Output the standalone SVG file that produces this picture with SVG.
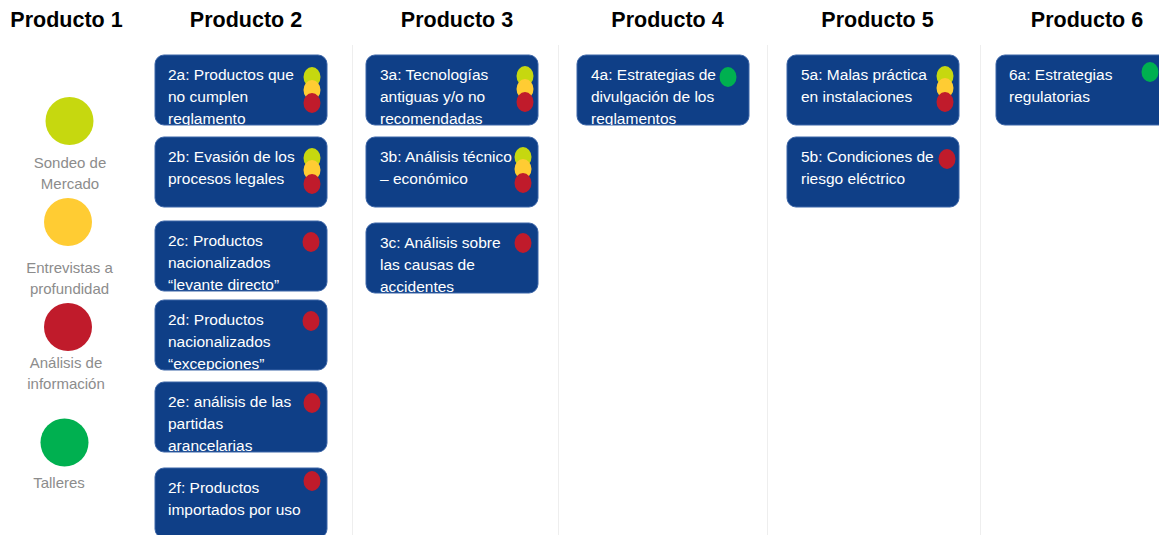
<svg xmlns="http://www.w3.org/2000/svg" width="1159" height="535" viewBox="0 0 1159 535">
<style>
.hdr{font-family:"Liberation Sans",Arial,sans-serif;font-weight:bold;font-size:21.5px;fill:#000;text-anchor:middle}
.box{fill:#0F3F87;stroke:#3D66A8;stroke-width:1}
.bt{font-family:"Liberation Sans",Arial,sans-serif;font-size:15.5px;fill:#FFFFFF}
.lg{font-family:"Liberation Sans",Arial,sans-serif;font-size:15px;fill:#8C8C8C;text-anchor:middle}
.sep{stroke:#EEEEEE;stroke-width:1}
.lime{fill:#C6D80F}
.yel{fill:#FFCC33}
.red{fill:#C01B2B}
.grn{fill:#00B050}
</style>
<defs>
<clipPath id="c2a"><rect x="155" y="55" width="172" height="70" rx="9"/></clipPath>
<clipPath id="c2b"><rect x="155" y="137" width="172" height="70" rx="9"/></clipPath>
<clipPath id="c2c"><rect x="155" y="221" width="172" height="70" rx="9"/></clipPath>
<clipPath id="c2d"><rect x="155" y="300" width="172" height="70" rx="9"/></clipPath>
<clipPath id="c2e"><rect x="155" y="382" width="172" height="70" rx="9"/></clipPath>
<clipPath id="c2f"><rect x="155" y="468" width="172" height="70" rx="9"/></clipPath>
<clipPath id="c3a"><rect x="366" y="55" width="172" height="70" rx="9"/></clipPath>
<clipPath id="c3b"><rect x="366" y="137" width="172" height="70" rx="9"/></clipPath>
<clipPath id="c3c"><rect x="366" y="223" width="172" height="70" rx="9"/></clipPath>
<clipPath id="c4a"><rect x="577" y="55" width="172" height="70" rx="9"/></clipPath>
<clipPath id="c5a"><rect x="787" y="55" width="172" height="70" rx="9"/></clipPath>
<clipPath id="c5b"><rect x="787" y="137" width="172" height="70" rx="9"/></clipPath>
<clipPath id="c6a"><rect x="996" y="55" width="172" height="70" rx="9"/></clipPath>
</defs>
<rect width="1159" height="535" fill="#FFFFFF"/>

<g id="separators">
<line class="sep" x1="352.5" y1="45" x2="352.5" y2="535"/>
<line class="sep" x1="558.5" y1="45" x2="558.5" y2="535"/>
<line class="sep" x1="767.5" y1="45" x2="767.5" y2="535"/>
<line class="sep" x1="980.5" y1="45" x2="980.5" y2="535"/>
</g>

<g id="headers">
<text class="hdr" x="66.5" y="27">Producto 1</text>
<text class="hdr" x="246" y="27">Producto 2</text>
<text class="hdr" x="457" y="27">Producto 3</text>
<text class="hdr" x="667.5" y="27">Producto 4</text>
<text class="hdr" x="877.5" y="27">Producto 5</text>
<text class="hdr" x="1087" y="27">Producto 6</text>
</g>

<g id="legend">
<circle class="lime" cx="69.5" cy="121" r="24"/>
<text class="lg" x="70" y="168">Sondeo de</text>
<text class="lg" x="70" y="189">Mercado</text>
<circle class="yel" cx="68" cy="222" r="24"/>
<text class="lg" x="69.5" y="273">Entrevistas a</text>
<text class="lg" x="69.5" y="294">profundidad</text>
<circle class="red" cx="68" cy="327" r="24"/>
<text class="lg" x="66" y="368">Análisis de</text>
<text class="lg" x="66" y="389">información</text>
<circle class="grn" cx="64.5" cy="442.5" r="24"/>
<text class="lg" x="59" y="488">Talleres</text>
</g>

<g id="n2a">
<rect class="box" x="155" y="55" width="172" height="70" rx="9"/>
<text class="bt" clip-path="url(#c2a)"><tspan x="168" y="80">2a: Productos que</tspan><tspan x="168" y="102">no cumplen</tspan><tspan x="168" y="123.5">reglamento</tspan></text>
<ellipse class="lime" cx="312" cy="77" rx="8.5" ry="10"/>
<ellipse class="yel" cx="312" cy="90" rx="8.5" ry="10"/>
<ellipse class="red" cx="312" cy="103" rx="8.5" ry="10"/>
</g>
<g id="n2b">
<rect class="box" x="155" y="137" width="172" height="70" rx="9"/>
<text class="bt" clip-path="url(#c2b)"><tspan x="168" y="162">2b: Evasión de los</tspan><tspan x="168" y="184">procesos legales</tspan></text>
<ellipse class="lime" cx="312" cy="158" rx="8.5" ry="10"/>
<ellipse class="yel" cx="312" cy="170" rx="8.5" ry="10"/>
<ellipse class="red" cx="312" cy="184" rx="8.5" ry="10"/>
</g>
<g id="n2c">
<rect class="box" x="155" y="221" width="172" height="70" rx="9"/>
<text class="bt" clip-path="url(#c2c)"><tspan x="168" y="246">2c: Productos</tspan><tspan x="168" y="268">nacionalizados</tspan><tspan x="168" y="289.5">“levante directo”</tspan></text>
<ellipse class="red" cx="311" cy="242" rx="8.5" ry="10"/>
</g>
<g id="n2d">
<rect class="box" x="155" y="300" width="172" height="70" rx="9"/>
<text class="bt" clip-path="url(#c2d)"><tspan x="168" y="325">2d: Productos</tspan><tspan x="168" y="347">nacionalizados</tspan><tspan x="168" y="368.5">“excepciones”</tspan></text>
<ellipse class="red" cx="311" cy="321" rx="8.5" ry="10"/>
</g>
<g id="n2e">
<rect class="box" x="155" y="382" width="172" height="70" rx="9"/>
<text class="bt" clip-path="url(#c2e)"><tspan x="168" y="407">2e: análisis de las</tspan><tspan x="168" y="429">partidas</tspan><tspan x="168" y="450.5">arancelarias</tspan></text>
<ellipse class="red" cx="312" cy="403" rx="8.5" ry="10"/>
</g>
<g id="n2f">
<rect class="box" x="155" y="468" width="172" height="70" rx="9"/>
<text class="bt" clip-path="url(#c2f)"><tspan x="168" y="493">2f: Productos</tspan><tspan x="168" y="515">importados por uso</tspan></text>
<ellipse class="red" cx="312" cy="481" rx="8.5" ry="10"/>
</g>

<g id="n3a">
<rect class="box" x="366" y="55" width="172" height="70" rx="9"/>
<text class="bt" clip-path="url(#c3a)"><tspan x="380" y="80">3a: Tecnologías</tspan><tspan x="380" y="102">antiguas y/o no</tspan><tspan x="380" y="123.5">recomendadas</tspan></text>
<ellipse class="lime" cx="525" cy="76" rx="8.5" ry="10"/>
<ellipse class="yel" cx="525" cy="89" rx="8.5" ry="10"/>
<ellipse class="red" cx="525" cy="102" rx="8.5" ry="10"/>
</g>
<g id="n3b">
<rect class="box" x="366" y="137" width="172" height="70" rx="9"/>
<text class="bt" clip-path="url(#c3b)"><tspan x="380" y="162">3b: Análisis técnico</tspan><tspan x="380" y="184">– económico</tspan></text>
<ellipse class="lime" cx="523" cy="157" rx="8.5" ry="10"/>
<ellipse class="yel" cx="523" cy="169" rx="8.5" ry="10"/>
<ellipse class="red" cx="523" cy="183" rx="8.5" ry="10"/>
</g>
<g id="n3c">
<rect class="box" x="366" y="223" width="172" height="70" rx="9"/>
<text class="bt" clip-path="url(#c3c)"><tspan x="380" y="248">3c: Análisis sobre</tspan><tspan x="380" y="270">las causas de</tspan><tspan x="380" y="291.5">accidentes</tspan></text>
<ellipse class="red" cx="523" cy="243" rx="8.5" ry="10"/>
</g>

<g id="n4a">
<rect class="box" x="577" y="55" width="172" height="70" rx="9"/>
<text class="bt" clip-path="url(#c4a)"><tspan x="591" y="80">4a: Estrategias de</tspan><tspan x="591" y="102">divulgación de los</tspan><tspan x="591" y="123.5">reglamentos</tspan></text>
<ellipse class="grn" cx="728" cy="77" rx="8.5" ry="10"/>
</g>

<g id="n5a">
<rect class="box" x="787" y="55" width="172" height="70" rx="9"/>
<text class="bt" clip-path="url(#c5a)"><tspan x="801" y="80">5a: Malas práctica</tspan><tspan x="801" y="102">en instalaciones</tspan></text>
<ellipse class="lime" cx="945" cy="76" rx="8.5" ry="10"/>
<ellipse class="yel" cx="945" cy="88" rx="8.5" ry="10"/>
<ellipse class="red" cx="945" cy="102" rx="8.5" ry="10"/>
</g>
<g id="n5b">
<rect class="box" x="787" y="137" width="172" height="70" rx="9"/>
<text class="bt" clip-path="url(#c5b)"><tspan x="801" y="162">5b: Condiciones de</tspan><tspan x="801" y="184">riesgo eléctrico</tspan></text>
<ellipse class="red" cx="947" cy="159" rx="8.5" ry="10"/>
</g>

<g id="n6a">
<rect class="box" x="996" y="55" width="172" height="70" rx="9"/>
<text class="bt" clip-path="url(#c6a)"><tspan x="1009" y="80">6a: Estrategias</tspan><tspan x="1009" y="102">regulatorias</tspan></text>
<ellipse class="grn" cx="1150" cy="72" rx="8.5" ry="10"/>
</g>

<g id="connectors"></g>
</svg>
